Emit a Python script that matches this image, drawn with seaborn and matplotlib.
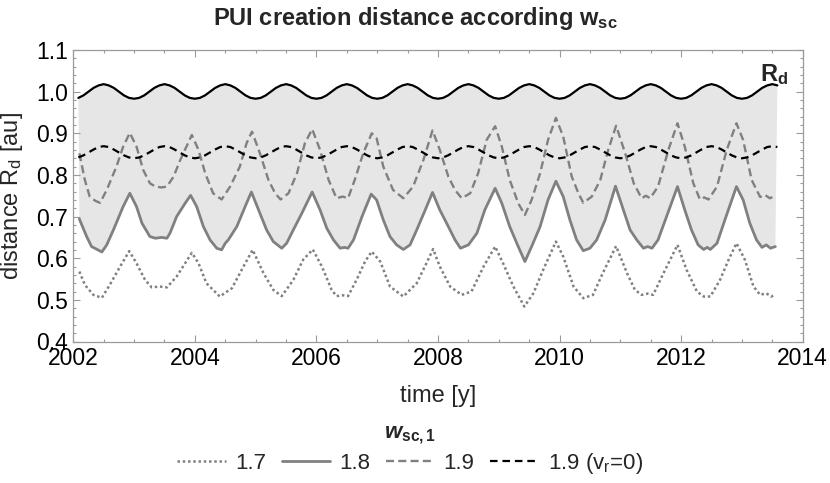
import numpy as np
import matplotlib
matplotlib.use("Agg")
import matplotlib.pyplot as plt
import seaborn as sns
from matplotlib.ticker import MultipleLocator

# monthly grid for the smooth curves (Feb 2002 .. Aug 2013)
t_month = 2002 + np.arange(1, 140) / 12

# R_d (solid black), one row per year starting in February
rd = [
    0.985, 0.991, 1.000, 1.009, 1.015, 1.018, 1.015, 1.009, 1.000, 0.991, 0.985, 0.983,
    0.985, 0.991, 1.000, 1.009, 1.015, 1.018, 1.015, 1.009, 1.000, 0.991, 0.985, 0.983,
    0.985, 0.991, 1.000, 1.009, 1.015, 1.018, 1.015, 1.009, 1.000, 0.991, 0.985, 0.983,
    0.985, 0.991, 1.000, 1.009, 1.015, 1.018, 1.015, 1.009, 1.000, 0.991, 0.985, 0.983,
    0.985, 0.991, 1.000, 1.009, 1.015, 1.018, 1.015, 1.009, 1.000, 0.991, 0.985, 0.983,
    0.985, 0.991, 1.000, 1.009, 1.015, 1.018, 1.015, 1.009, 1.000, 0.991, 0.985, 0.983,
    0.985, 0.991, 1.000, 1.009, 1.015, 1.018, 1.015, 1.009, 1.000, 0.991, 0.985, 0.983,
    0.985, 0.991, 1.000, 1.009, 1.015, 1.018, 1.015, 1.009, 1.000, 0.991, 0.985, 0.983,
    0.985, 0.991, 1.000, 1.009, 1.015, 1.018, 1.015, 1.009, 1.000, 0.991, 0.985, 0.983,
    0.985, 0.991, 1.000, 1.009, 1.015, 1.018, 1.015, 1.009, 1.000, 0.991, 0.985, 0.983,
    0.985, 0.991, 1.000, 1.009, 1.015, 1.018, 1.015, 1.009, 1.000, 0.991, 0.985, 0.983,
    0.985, 0.991, 1.000, 1.009, 1.015, 1.018, 1.015,
]

# w_sc,1 = 1.9 with v_r = 0 (dashed black)
d19_vr0 = [
    0.842, 0.847, 0.854, 0.861, 0.867, 0.869, 0.867, 0.861, 0.854, 0.847, 0.842, 0.840,
    0.842, 0.847, 0.854, 0.861, 0.867, 0.869, 0.867, 0.861, 0.854, 0.847, 0.842, 0.840,
    0.842, 0.847, 0.854, 0.861, 0.867, 0.869, 0.867, 0.861, 0.854, 0.847, 0.842, 0.840,
    0.842, 0.847, 0.854, 0.861, 0.867, 0.869, 0.867, 0.861, 0.854, 0.847, 0.842, 0.840,
    0.842, 0.847, 0.854, 0.861, 0.867, 0.869, 0.867, 0.861, 0.854, 0.847, 0.842, 0.840,
    0.842, 0.847, 0.854, 0.861, 0.867, 0.869, 0.867, 0.861, 0.854, 0.847, 0.842, 0.840,
    0.842, 0.847, 0.854, 0.861, 0.867, 0.869, 0.867, 0.861, 0.854, 0.847, 0.842, 0.840,
    0.842, 0.847, 0.854, 0.861, 0.867, 0.869, 0.867, 0.861, 0.854, 0.847, 0.842, 0.840,
    0.842, 0.847, 0.854, 0.861, 0.867, 0.869, 0.867, 0.861, 0.854, 0.847, 0.842, 0.840,
    0.842, 0.847, 0.854, 0.861, 0.867, 0.869, 0.867, 0.861, 0.854, 0.847, 0.842, 0.840,
    0.842, 0.847, 0.854, 0.861, 0.867, 0.869, 0.867, 0.861, 0.854, 0.847, 0.842, 0.840,
    0.842, 0.847, 0.854, 0.861, 0.867, 0.869, 0.867,
]

# w_sc,1 = 1.8 (solid gray)
t18 = [2002.10, 2002.22, 2002.30, 2002.38, 2002.47, 2002.55, 2002.66, 2002.82, 2002.93,
       2003.04, 2003.13, 2003.26, 2003.35, 2003.45, 2003.54, 2003.59, 2003.70, 2003.84, 2003.93,
       2004.03, 2004.14, 2004.25, 2004.36, 2004.44, 2004.50, 2004.55, 2004.69, 2004.85, 2004.93,
       2005.07, 2005.18, 2005.29, 2005.43, 2005.51, 2005.62, 2005.76, 2005.93,
       2006.06, 2006.17, 2006.28, 2006.39, 2006.46, 2006.52, 2006.61, 2006.75, 2006.90,
       2006.99, 2007.10, 2007.21, 2007.32, 2007.43, 2007.54, 2007.65, 2007.79, 2007.91,
       2008.03, 2008.17, 2008.28, 2008.37, 2008.50, 2008.64, 2008.77, 2008.94,
       2009.05, 2009.18, 2009.32, 2009.43, 2009.54, 2009.68, 2009.81, 2009.94,
       2010.06, 2010.17, 2010.28, 2010.39, 2010.50, 2010.61, 2010.75, 2010.92,
       2011.05, 2011.16, 2011.27, 2011.38, 2011.45, 2011.52, 2011.62, 2011.76, 2011.94,
       2012.06, 2012.17, 2012.28, 2012.37, 2012.43, 2012.48, 2012.59, 2012.72, 2012.91,
       2013.02, 2013.13, 2013.24, 2013.33, 2013.40, 2013.47, 2013.55]
d18 = [0.694, 0.652, 0.628, 0.622, 0.615, 0.632, 0.668, 0.724, 0.756,
       0.724, 0.684, 0.652, 0.648, 0.650, 0.648, 0.660, 0.700, 0.732, 0.751,
       0.724, 0.676, 0.644, 0.624, 0.620, 0.636, 0.644, 0.676, 0.732, 0.759,
       0.708, 0.668, 0.640, 0.624, 0.636, 0.668, 0.708, 0.759,
       0.716, 0.672, 0.644, 0.624, 0.626, 0.624, 0.644, 0.700, 0.754,
       0.740, 0.692, 0.652, 0.632, 0.621, 0.632, 0.668, 0.716, 0.758,
       0.716, 0.676, 0.644, 0.624, 0.632, 0.660, 0.716, 0.768,
       0.732, 0.676, 0.628, 0.592, 0.628, 0.676, 0.740, 0.785,
       0.748, 0.692, 0.644, 0.618, 0.624, 0.644, 0.692, 0.773,
       0.716, 0.668, 0.644, 0.624, 0.628, 0.624, 0.644, 0.700, 0.772,
       0.716, 0.668, 0.632, 0.621, 0.626, 0.621, 0.636, 0.692, 0.772,
       0.740, 0.684, 0.644, 0.626, 0.632, 0.624, 0.628]

# w_sc,1 = 1.9 (dashed gray)
t19 = [2002.10, 2002.19, 2002.27, 2002.36, 2002.44, 2002.55, 2002.71, 2002.82, 2002.93,
       2003.04, 2003.15, 2003.26, 2003.35, 2003.45, 2003.54, 2003.65, 2003.76, 2003.95,
       2004.06, 2004.17, 2004.30, 2004.44, 2004.58, 2004.74, 2004.85, 2004.94,
       2005.07, 2005.21, 2005.32, 2005.41, 2005.54, 2005.68, 2005.81, 2005.93,
       2006.06, 2006.20, 2006.33, 2006.43, 2006.52, 2006.63, 2006.77, 2006.91,
       2006.99, 2007.10, 2007.26, 2007.43, 2007.59, 2007.76, 2007.91,
       2008.03, 2008.17, 2008.28, 2008.39, 2008.53, 2008.66, 2008.80, 2008.94,
       2009.05, 2009.18, 2009.32, 2009.43, 2009.54, 2009.68, 2009.81, 2009.94,
       2010.06, 2010.20, 2010.31, 2010.39, 2010.53, 2010.67, 2010.80, 2010.93,
       2011.08, 2011.22, 2011.35, 2011.42, 2011.49, 2011.62, 2011.79, 2011.94,
       2012.06, 2012.20, 2012.31, 2012.38, 2012.45, 2012.59, 2012.75, 2012.91,
       2013.02, 2013.16, 2013.30, 2013.38, 2013.46, 2013.55]
d19 = [0.852, 0.788, 0.748, 0.738, 0.733, 0.764, 0.820, 0.868, 0.901,
       0.868, 0.812, 0.780, 0.772, 0.770, 0.772, 0.796, 0.836, 0.896,
       0.860, 0.804, 0.756, 0.741, 0.772, 0.820, 0.876, 0.904,
       0.852, 0.788, 0.756, 0.741, 0.756, 0.804, 0.876, 0.910,
       0.860, 0.788, 0.744, 0.748, 0.744, 0.788, 0.852, 0.900,
       0.888, 0.820, 0.764, 0.744, 0.772, 0.836, 0.907,
       0.860, 0.796, 0.764, 0.744, 0.756, 0.804, 0.884, 0.917,
       0.868, 0.788, 0.732, 0.704, 0.740, 0.804, 0.884, 0.937,
       0.892, 0.796, 0.756, 0.733, 0.748, 0.788, 0.860, 0.918,
       0.852, 0.780, 0.744, 0.750, 0.744, 0.772, 0.860, 0.924,
       0.868, 0.780, 0.741, 0.746, 0.741, 0.772, 0.860, 0.924,
       0.884, 0.788, 0.747, 0.752, 0.744, 0.750]

# w_sc,1 = 1.7 (dotted gray)
t17 = [2002.10, 2002.19, 2002.33, 2002.47, 2002.60, 2002.77, 2002.92,
       2003.04, 2003.18, 2003.29, 2003.42, 2003.54, 2003.70, 2003.84, 2003.95,
       2004.06, 2004.19, 2004.41, 2004.61, 2004.77, 2004.95,
       2005.13, 2005.29, 2005.43, 2005.62, 2005.78, 2005.94,
       2006.09, 2006.25, 2006.33, 2006.43, 2006.52, 2006.66, 2006.80, 2006.91,
       2007.05, 2007.21, 2007.43, 2007.65, 2007.81, 2007.92,
       2008.03, 2008.20, 2008.39, 2008.55, 2008.75, 2008.94,
       2009.07, 2009.24, 2009.42, 2009.57, 2009.73, 2009.94,
       2010.06, 2010.23, 2010.39, 2010.55, 2010.71, 2010.93,
       2011.11, 2011.24, 2011.35, 2011.45, 2011.54, 2011.71, 2011.94,
       2012.09, 2012.26, 2012.37, 2012.48, 2012.64, 2012.78, 2012.91,
       2013.05, 2013.19, 2013.30, 2013.40, 2013.48, 2013.55]
d17 = [0.568, 0.536, 0.512, 0.505, 0.536, 0.580, 0.617,
       0.588, 0.548, 0.530, 0.532, 0.530, 0.556, 0.588, 0.613,
       0.588, 0.540, 0.508, 0.528, 0.572, 0.620,
       0.564, 0.524, 0.509, 0.548, 0.596, 0.621,
       0.580, 0.524, 0.509, 0.511, 0.509, 0.548, 0.592, 0.616,
       0.592, 0.532, 0.508, 0.540, 0.588, 0.622,
       0.580, 0.532, 0.512, 0.520, 0.580, 0.628,
       0.588, 0.532, 0.484, 0.516, 0.572, 0.640,
       0.604, 0.532, 0.504, 0.512, 0.564, 0.629,
       0.564, 0.524, 0.512, 0.515, 0.512, 0.564, 0.632,
       0.572, 0.520, 0.508, 0.508, 0.548, 0.596, 0.636,
       0.596, 0.532, 0.512, 0.516, 0.508, 0.512]

legend_labels = ["1.7", "1.8", "1.9", r"1.9 (v$_\mathrm{r}$=0)"]

sns.set_style("ticks")
plt.rcParams["font.family"] = ["Liberation Sans", "DejaVu Sans"]
plt.rcParams["mathtext.fontset"] = "custom"
plt.rcParams["mathtext.rm"] = "Liberation Sans"
plt.rcParams["mathtext.it"] = "Liberation Sans:italic"
plt.rcParams["mathtext.bf"] = "Liberation Sans:bold"
plt.rcParams["mathtext.bfit"] = "Liberation Sans:italic:bold"

gray = "#808080"
frame = "#9a9a9a"

fig = plt.figure(figsize=(8.3, 4.83), dpi=100)
ax = fig.add_axes([73.3 / 830, 1 - 341.5 / 483, 729.4 / 830, 291.5 / 483])

# shaded band between the 1.8 curve and R_d
ax.fill(np.concatenate([t_month, t18[::-1]]), np.concatenate([rd, d18[::-1]]),
        color="#e6e6e6", lw=0, zorder=0)

l17 = sns.lineplot(x=t17, y=d17, ax=ax, color=gray, lw=1.8, linestyle=(0, (1, 1.1)),
                   estimator=None).lines[-1]
l18 = sns.lineplot(x=t18, y=d18, ax=ax, color=gray, lw=2.0, estimator=None).lines[-1]
l19 = sns.lineplot(x=t19, y=d19, ax=ax, color=gray, lw=1.7, linestyle=(0, (3.4, 1.8)),
                   estimator=None).lines[-1]
l19v = sns.lineplot(x=t_month, y=d19_vr0, ax=ax, color="black", lw=1.6,
                    linestyle=(0, (3.4, 2.2)), estimator=None).lines[-1]
sns.lineplot(x=t_month, y=rd, ax=ax, color="black", lw=1.6, estimator=None)

ax.text(2013.3, 1.042, r"$\mathbf{R}_\mathbf{d}$", fontsize=17, ha="left", va="center")

ax.set_xlim(2002, 2014)
ax.set_ylim(0.4, 1.1)
ax.xaxis.set_major_locator(MultipleLocator(2))
ax.xaxis.set_minor_locator(MultipleLocator(0.5))
ax.yaxis.set_major_locator(MultipleLocator(0.1))
ax.yaxis.set_minor_locator(MultipleLocator(0.02))
ax.yaxis.set_major_formatter(matplotlib.ticker.FormatStrFormatter("%.1f"))
ax.tick_params(which="both", direction="in", top=True, right=True, color=frame,
               width=0.8, labelsize=16.5, labelcolor="black")
ax.tick_params(which="major", length=5, pad=4)
ax.tick_params(which="minor", length=2.5)
for s in ax.spines.values():
    s.set_visible(True)
    s.set_color(frame)
    s.set_linewidth(0.9)

ax.set_xlabel("time [y]", fontsize=17)
ax.xaxis.set_label_coords(0.5, -0.15)
ax.set_ylabel(r"distance R$_\mathrm{d}$ [au]", fontsize=17)
ax.yaxis.set_label_coords(-0.066, 0.5)

fig.text(0.5, 1 - 19 / 483, r"PUI creation distance according w$_\mathbf{sc}$",
         fontsize=17, fontweight="bold", ha="center", va="center")

fig.legend([l17, l18, l19, l19v], legend_labels, loc="upper center",
           bbox_to_anchor=(0.494, 1 - 409 / 483), ncol=4, frameon=False, fontsize=16,
           title=r"$\mathbfit{w}_\mathbf{sc,1}$", title_fontsize=16,
           handlelength=2.2, handletextpad=0.4, columnspacing=0.7,
           borderpad=0.1, labelspacing=0.2)

fig.savefig("out.png", dpi=100)
